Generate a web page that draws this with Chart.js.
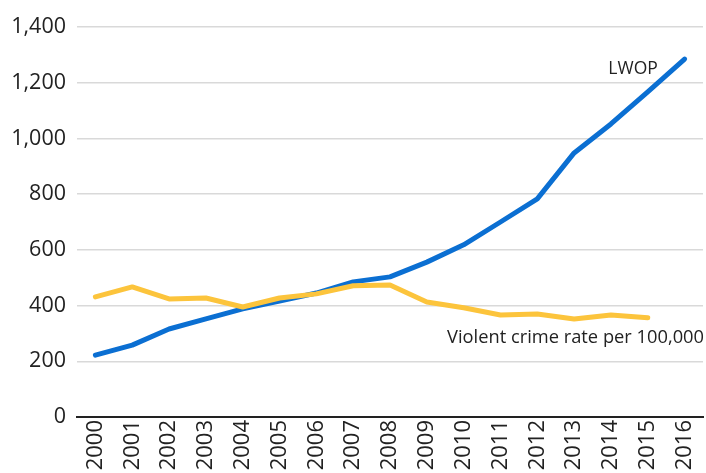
<!DOCTYPE html>
<html>
<head>
<meta charset="utf-8">
<script src="https://cdn.jsdelivr.net/npm/chart.js@4"></script>
<style>
    html, body { margin: 0; padding: 0; background: #fff; }
    #wrap { width: 706px; height: 473px; }
</style>
</head>
<body>
<div id="wrap"><canvas id="chart" width="706" height="473"></canvas></div>
<script>
const years = ['2000', '2001', '2002', '2003', '2004', '2005', '2006', '2007', '2008',
    '2009', '2010', '2011', '2012', '2013', '2014', '2015', '2016'];
const lwop = [222, 258, 316, 352, 388, 416, 445, 485, 503, 556, 618, 700, 783, 948, 1052, 1167, 1285];
const violentCrime = [431, 467, 424, 427, 395, 427, 442, 471, 474, 413, 392, 366, 370, 352, 366, 356];

const yTicks = [0, 200, 400, 600, 800, 1000, 1200, 1400];
const textColor = '#222';
const fontFamily = '"Open Sans", "Noto Sans", sans-serif';

// line labels placed next to the series ends
const seriesLabels = {
    id: 'seriesLabels',
    afterDatasetsDraw(chart) {
        const ctx = chart.ctx;
        const x = chart.scales.x;
        const y = chart.scales.y;
        ctx.save();
        ctx.fillStyle = textColor;
        ctx.textBaseline = 'middle';
        ctx.textAlign = 'right';

        ctx.font = '17.5px ' + fontFamily;
        ctx.fillText('LWOP', x.getPixelForValue(15) + 10, y.getPixelForValue(1250));

        ctx.font = '18.3px ' + fontFamily;
        ctx.fillText('Violent crime rate per 100,000', chart.chartArea.right + 1, y.getPixelForValue(283));
        ctx.restore();
    }
};

new Chart(document.getElementById('chart'), {
    type: 'line',
    data: {
        labels: years,
        datasets: [
            {
                label: 'Violent crime rate per 100,000',
                data: violentCrime,
                borderColor: '#fcc43c',
                borderWidth: 5,
                pointRadius: 0,
                tension: 0,
                borderCapStyle: 'round',
                borderJoinStyle: 'round',
                fill: false
            },
            {
                label: 'LWOP',
                data: lwop,
                borderColor: '#0b6fd2',
                borderWidth: 5,
                pointRadius: 0,
                tension: 0,
                borderCapStyle: 'round',
                borderJoinStyle: 'round',
                fill: false
            }
        ]
    },
    options: {
        responsive: false,
        animation: false,
        layout: { padding: { top: 27, right: 3, left: 0, bottom: 0 } },
        plugins: {
            legend: { display: false },
            tooltip: { enabled: false }
        },
        scales: {
            x: {
                offset: true,
                grid: { display: false, drawTicks: false },
                border: { display: true, color: '#222', width: 2 },
                ticks: {
                    color: textColor,
                    font: { family: fontFamily, size: 22 },
                    maxRotation: 90,
                    minRotation: 90,
                    padding: 3,
                    autoSkip: false
                },
                afterFit(scale) {
                    scale.height = 56;
                    // don't let the rotated end labels shrink the plot
                    scale.paddingLeft = 0;
                    scale.paddingRight = 0;
                }
            },
            y: {
                min: 0,
                max: 1400,
                afterBuildTicks(scale) { scale.ticks = yTicks.map(v => ({ value: v })); },
                grid: { color: '#d9d9d9', lineWidth: 1.5, drawTicks: false },
                border: { display: false },
                ticks: {
                    color: textColor,
                    font: { family: fontFamily, size: 21.5 },
                    padding: 11,
                    callback: v => v.toLocaleString('en-US')
                },
                afterFit(scale) { scale.width = 77; }
            }
        }
    },
    plugins: [seriesLabels]
});
</script>
</body>
</html>
